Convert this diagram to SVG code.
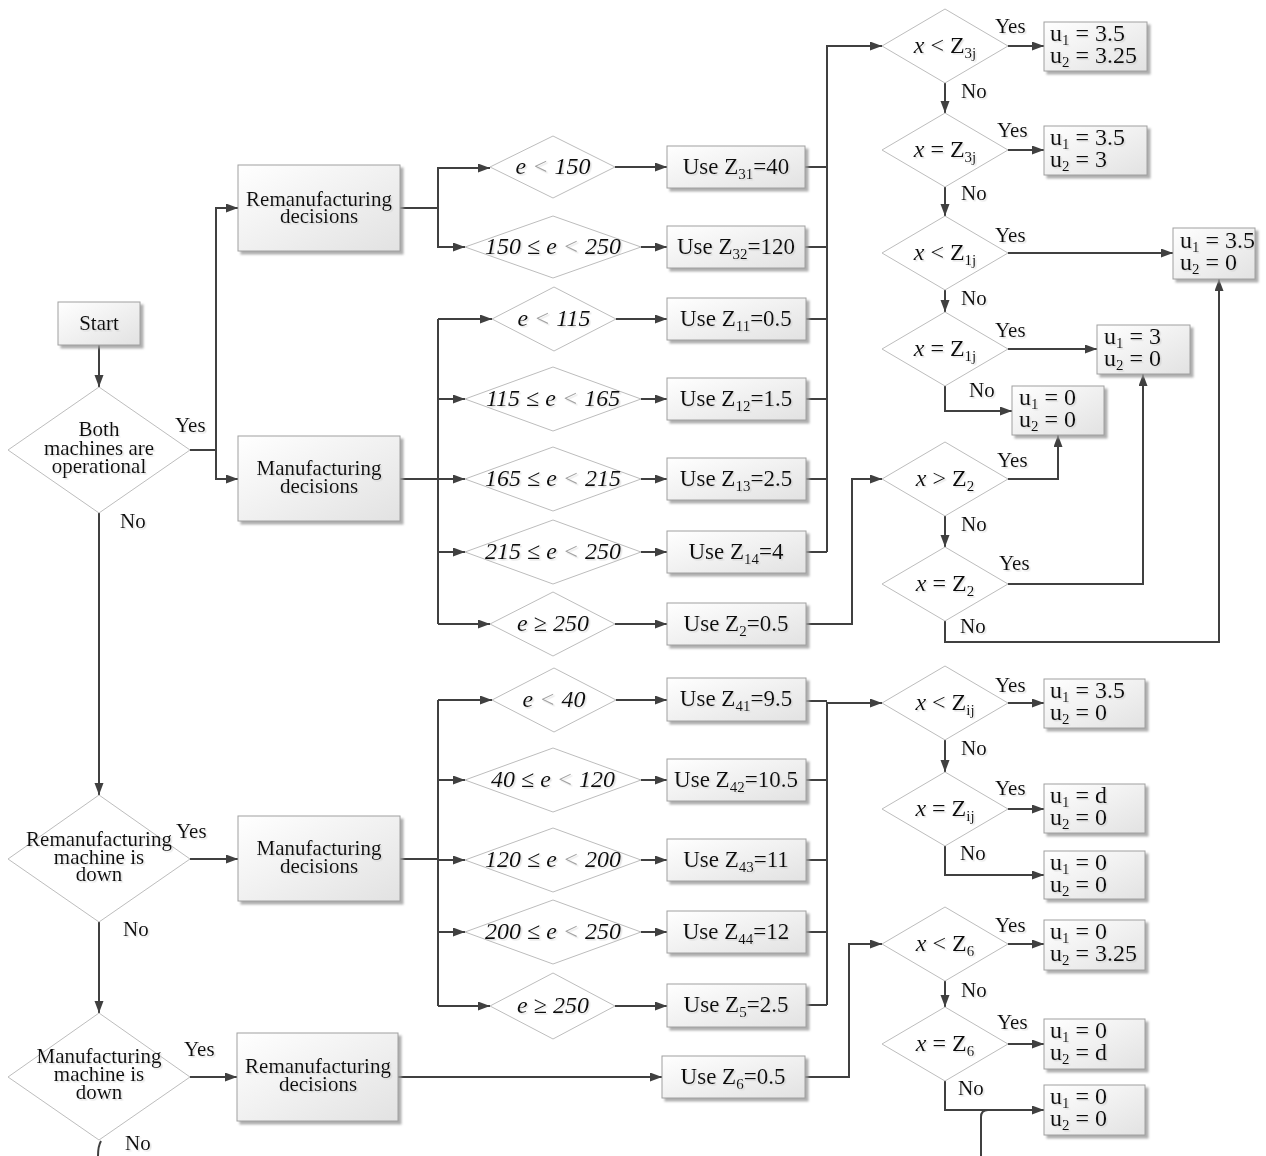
<svg xmlns="http://www.w3.org/2000/svg" width="1266" height="1156" viewBox="0 0 1266 1156">
<defs>
<linearGradient id="g" x1="0" y1="0" x2="1" y2="1"><stop offset="0" stop-color="#ffffff"/><stop offset="1" stop-color="#e2e2e2"/></linearGradient>
<filter id="sh" x="-10%" y="-10%" width="130%" height="140%"><feDropShadow dx="3" dy="3" stdDeviation="1.2" flood-color="#9a9a9a" flood-opacity="0.8"/></filter>
<filter id="ts" x="-5%" y="-20%" width="115%" height="150%"><feDropShadow dx="1.5" dy="1.5" stdDeviation="0.5" flood-color="#c0c0c0" flood-opacity="0.45"/></filter>
<marker id="a" markerUnits="userSpaceOnUse" markerWidth="13" markerHeight="10" refX="12" refY="4.5" orient="auto"><path d="M0,0 L12,4.5 L0,9 z" fill="#404040"/></marker>
<style>
.box{fill:url(#g);stroke:#a0a0a0;stroke-width:1;filter:url(#sh)}
.dia{fill:#fff;stroke:#bdbdbd;stroke-width:1}
.t{font-family:"Liberation Serif","Times New Roman",serif;font-size:21px;fill:#111;text-anchor:middle;filter:url(#ts)}
.ti{font-style:italic;font-size:24px}
.u{font-size:23px}
.xd{font-size:24px}
.uu{font-size:24px;text-anchor:start}
.l{text-anchor:start}
.lg{fill:#a0a0a0}
.con{fill:none;stroke:#404040;stroke-width:2}
.ar{marker-end:url(#a)}
</style>
</defs>

<g id="connectors">
<path class="con ar" d="M99 345V387"/>
<path class="con ar" d="M190 450H216V208H238"/>
<path class="con ar" d="M216 450V479H238"/>
<path class="con ar" d="M99 513V795"/>
<path class="con ar" d="M400 208H438V168H490"/>
<path class="con ar" d="M438 208V247H465"/>
<path class="con ar" d="M615 167H667"/>
<path class="con ar" d="M641 247H667"/>
<path class="con" d="M400 479H438M438 319V624"/>
<path class="con ar" d="M438 319H492"/>
<path class="con ar" d="M438 399H465"/>
<path class="con ar" d="M438 479H465"/>
<path class="con ar" d="M438 552H465"/>
<path class="con ar" d="M438 624H490"/>
<path class="con ar" d="M616 319H667"/>
<path class="con ar" d="M641 399H667"/>
<path class="con ar" d="M641 479H667"/>
<path class="con ar" d="M641 552H667"/>
<path class="con ar" d="M615 624H667"/>
<path class="con" d="M805 167H827M805 247H827M806 319H827M806 399H827M806 479H827M806 552H827"/>
<path class="con ar" d="M827 552V46H882"/>
<path class="con ar" d="M806 624H852V479H882"/>
<path class="con ar" d="M1008 46H1044"/>
<path class="con ar" d="M945 83V113"/>
<path class="con ar" d="M1008 150H1044"/>
<path class="con ar" d="M945 187V216"/>
<path class="con ar" d="M1008 253H1173"/>
<path class="con ar" d="M945 290V312"/>
<path class="con ar" d="M1008 349H1097"/>
<path class="con ar" d="M945 386V411H1012"/>
<path class="con ar" d="M1008 479H1058V435"/>
<path class="con ar" d="M945 516V547"/>
<path class="con ar" d="M1008 584H1143V374"/>
<path class="con ar" d="M945 621V642H1219V279"/>
<path class="con ar" d="M190 859H238"/>
<path class="con ar" d="M99 922V1013"/>
<path class="con" d="M400 859H438M438 700V1006"/>
<path class="con ar" d="M438 700H492"/>
<path class="con ar" d="M438 780H465"/>
<path class="con ar" d="M438 860H465"/>
<path class="con ar" d="M438 932H465"/>
<path class="con ar" d="M438 1006H490"/>
<path class="con ar" d="M616 700H667"/>
<path class="con ar" d="M641 780H667"/>
<path class="con ar" d="M641 860H667"/>
<path class="con ar" d="M641 932H667"/>
<path class="con ar" d="M615 1006H667"/>
<path class="con" d="M806 701H827M806 780H827M806 860H827M806 932H827M806 1005H827"/>
<path class="con ar" d="M827 1005V703H882"/>
<path class="con ar" d="M190 1077H237"/>
<path class="con ar" d="M398 1077H662"/>
<path class="con ar" d="M805 1077H849V944H882"/>
<path class="con ar" d="M1008 703H1044"/>
<path class="con ar" d="M945 740V772"/>
<path class="con ar" d="M1008 809H1044"/>
<path class="con ar" d="M945 846V875H1044"/>
<path class="con ar" d="M1008 944H1044"/>
<path class="con ar" d="M945 981V1007"/>
<path class="con ar" d="M1008 1044H1044"/>
<path class="con ar" d="M945 1081V1110H1044"/>
<path class="con" d="M981 1156V1117Q981 1110 988 1110"/>
<path class="con" d="M101 1141Q98 1146 98 1156"/>
</g>

<g id="labels">
<text class="t l" x="175" y="432">Yes</text>
<text class="t l" x="120" y="528">No</text>
<text class="t l" x="176" y="838">Yes</text>
<text class="t l" x="123" y="936">No</text>
<text class="t l" x="184" y="1056">Yes</text>
<text class="t l" x="125" y="1150">No</text>
<text class="t l" x="995" y="33">Yes</text>
<text class="t l" x="961" y="98">No</text>
<text class="t l" x="997" y="137">Yes</text>
<text class="t l" x="961" y="200">No</text>
<text class="t l" x="995" y="242">Yes</text>
<text class="t l" x="961" y="305">No</text>
<text class="t l" x="995" y="337">Yes</text>
<text class="t l" x="969" y="397">No</text>
<text class="t l" x="997" y="467">Yes</text>
<text class="t l" x="961" y="531">No</text>
<text class="t l" x="999" y="570">Yes</text>
<text class="t l" x="960" y="633">No</text>
<text class="t l" x="995" y="692">Yes</text>
<text class="t l" x="961" y="755">No</text>
<text class="t l" x="995" y="795">Yes</text>
<text class="t l" x="960" y="860">No</text>
<text class="t l" x="995" y="932">Yes</text>
<text class="t l" x="961" y="997">No</text>
<text class="t l" x="997" y="1029">Yes</text>
<text class="t l" x="958" y="1095">No</text>
</g>

<g id="start"><rect class="box" x="58" y="302" width="82" height="43"/><text class="t" x="99" y="330">Start</text></g>
<g id="d_both"><polygon class="dia" points="8,450 99,387 190,450 99,513"/><text class="t" x="99" y="436">Both</text><text class="t" x="99" y="455">machines are</text><text class="t" x="99" y="473">operational</text></g>
<g id="rem_dec1"><rect class="box" x="238" y="165" width="162" height="86"/><text class="t" x="319" y="206">Remanufacturing</text><text class="t" x="319" y="223">decisions</text></g>
<g id="man_dec1"><rect class="box" x="238" y="436" width="162" height="85"/><text class="t" x="319" y="475">Manufacturing</text><text class="t" x="319" y="493">decisions</text></g>

<g id="d_e150"><polygon class="dia" points="490,167 553,136 615,167 553,198"/><text class="t ti" x="553" y="174">e <tspan class="lg">&lt;</tspan> 150</text></g>
<g id="d_150_250"><polygon class="dia" points="465,247 553,216 641,247 553,278"/><text class="t ti" x="553" y="254">150 ≤ e <tspan class="lg">&lt;</tspan> 250</text></g>
<g id="d_e115"><polygon class="dia" points="492,319 554,287 616,319 554,351"/><text class="t ti" x="554" y="326">e <tspan class="lg">&lt;</tspan> 115</text></g>
<g id="d_115_165"><polygon class="dia" points="465,399 553,367 641,399 553,431"/><text class="t ti" x="553" y="406">115 ≤ e <tspan class="lg">&lt;</tspan> 165</text></g>
<g id="d_165_215"><polygon class="dia" points="465,479 553,447 641,479 553,511"/><text class="t ti" x="553" y="486">165 ≤ e <tspan class="lg">&lt;</tspan> 215</text></g>
<g id="d_215_250"><polygon class="dia" points="465,552 553,520 641,552 553,584"/><text class="t ti" x="553" y="559">215 ≤ e <tspan class="lg">&lt;</tspan> 250</text></g>
<g id="d_e250a"><polygon class="dia" points="490,624 553,592 615,624 553,656"/><text class="t ti" x="553" y="631">e ≥ 250</text></g>

<g id="z31"><rect class="box" x="667" y="146" width="138" height="42"/><text class="t u" x="736" y="174">Use Z<tspan font-size="15" dy="5">31</tspan><tspan dy="-5">=40</tspan></text></g>
<g id="z32"><rect class="box" x="667" y="226" width="138" height="42"/><text class="t u" x="736" y="254">Use Z<tspan font-size="15" dy="5">32</tspan><tspan dy="-5">=120</tspan></text></g>
<g id="z11"><rect class="box" x="667" y="298" width="139" height="42"/><text class="t u" x="736" y="326">Use Z<tspan font-size="15" dy="5">11</tspan><tspan dy="-5">=0.5</tspan></text></g>
<g id="z12"><rect class="box" x="667" y="378" width="139" height="42"/><text class="t u" x="736" y="406">Use Z<tspan font-size="15" dy="5">12</tspan><tspan dy="-5">=1.5</tspan></text></g>
<g id="z13"><rect class="box" x="667" y="458" width="139" height="42"/><text class="t u" x="736" y="486">Use Z<tspan font-size="15" dy="5">13</tspan><tspan dy="-5">=2.5</tspan></text></g>
<g id="z14"><rect class="box" x="667" y="531" width="139" height="42"/><text class="t u" x="736" y="559">Use Z<tspan font-size="15" dy="5">14</tspan><tspan dy="-5">=4</tspan></text></g>
<g id="z2"><rect class="box" x="667" y="603" width="139" height="42"/><text class="t u" x="736" y="631">Use Z<tspan font-size="15" dy="5">2</tspan><tspan dy="-5">=0.5</tspan></text></g>

<g id="x_lt_z3j"><polygon class="dia" points="882,46 945,9 1008,46 945,83"/><text class="t xd" x="945" y="53"><tspan font-style="italic">x</tspan> &lt; Z<tspan font-size="15" dy="5">3j</tspan></text></g>
<g id="x_eq_z3j"><polygon class="dia" points="882,150 945,113 1008,150 945,187"/><text class="t xd" x="945" y="157"><tspan font-style="italic">x</tspan> = Z<tspan font-size="15" dy="5">3j</tspan></text></g>
<g id="x_lt_z1j"><polygon class="dia" points="882,253 945,216 1008,253 945,290"/><text class="t xd" x="945" y="260"><tspan font-style="italic">x</tspan> &lt; Z<tspan font-size="15" dy="5">1j</tspan></text></g>
<g id="x_eq_z1j"><polygon class="dia" points="882,349 945,312 1008,349 945,386"/><text class="t xd" x="945" y="356"><tspan font-style="italic">x</tspan> = Z<tspan font-size="15" dy="5">1j</tspan></text></g>
<g id="x_gt_z2"><polygon class="dia" points="882,479 945,442 1008,479 945,516"/><text class="t xd" x="945" y="486"><tspan font-style="italic">x</tspan> &gt; Z<tspan font-size="15" dy="5">2</tspan></text></g>
<g id="x_eq_z2"><polygon class="dia" points="882,584 945,547 1008,584 945,621"/><text class="t xd" x="945" y="591"><tspan font-style="italic">x</tspan> = Z<tspan font-size="15" dy="5">2</tspan></text></g>

<g id="uA"><rect class="box" x="1044" y="22" width="103" height="49"/><text class="t uu" x="1050" y="41">u<tspan font-size="15" dy="4">1</tspan><tspan dy="-4"> = 3.5</tspan></text><text class="t uu" x="1050" y="63">u<tspan font-size="15" dy="4">2</tspan><tspan dy="-4"> = 3.25</tspan></text></g>
<g id="uB"><rect class="box" x="1044" y="126" width="103" height="49"/><text class="t uu" x="1050" y="145">u<tspan font-size="15" dy="4">1</tspan><tspan dy="-4"> = 3.5</tspan></text><text class="t uu" x="1050" y="167">u<tspan font-size="15" dy="4">2</tspan><tspan dy="-4"> = 3</tspan></text></g>
<g id="uC"><rect class="box" x="1173" y="228" width="82" height="51"/><text class="t uu" x="1180" y="248">u<tspan font-size="15" dy="4">1</tspan><tspan dy="-4"> = 3.5</tspan></text><text class="t uu" x="1180" y="270">u<tspan font-size="15" dy="4">2</tspan><tspan dy="-4"> = 0</tspan></text></g>
<g id="uD"><rect class="box" x="1097" y="325" width="93" height="49"/><text class="t uu" x="1104" y="344">u<tspan font-size="15" dy="4">1</tspan><tspan dy="-4"> = 3</tspan></text><text class="t uu" x="1104" y="366">u<tspan font-size="15" dy="4">2</tspan><tspan dy="-4"> = 0</tspan></text></g>
<g id="uE"><rect class="box" x="1012" y="386" width="92" height="49"/><text class="t uu" x="1019" y="405">u<tspan font-size="15" dy="4">1</tspan><tspan dy="-4"> = 0</tspan></text><text class="t uu" x="1019" y="427">u<tspan font-size="15" dy="4">2</tspan><tspan dy="-4"> = 0</tspan></text></g>

<g id="d_rem_down"><polygon class="dia" points="8,859 99,795 190,859 99,922"/><text class="t" x="99" y="846">Remanufacturing</text><text class="t" x="99" y="864">machine is</text><text class="t" x="99" y="881">down</text></g>
<g id="man_dec2"><rect class="box" x="238" y="816" width="162" height="85"/><text class="t" x="319" y="855">Manufacturing</text><text class="t" x="319" y="873">decisions</text></g>
<g id="d_man_down"><polygon class="dia" points="8,1077 99,1013 190,1077 99,1140"/><text class="t" x="99" y="1063">Manufacturing</text><text class="t" x="99" y="1081">machine is</text><text class="t" x="99" y="1099">down</text></g>
<g id="rem_dec2"><rect class="box" x="237" y="1033" width="161" height="88"/><text class="t" x="318" y="1073">Remanufacturing</text><text class="t" x="318" y="1091">decisions</text></g>

<g id="d_e40"><polygon class="dia" points="492,700 554,668 616,700 554,732"/><text class="t ti" x="554" y="707">e <tspan class="lg">&lt;</tspan> 40</text></g>
<g id="d_40_120"><polygon class="dia" points="465,780 553,748 641,780 553,812"/><text class="t ti" x="553" y="787">40 ≤ e <tspan class="lg">&lt;</tspan> 120</text></g>
<g id="d_120_200"><polygon class="dia" points="465,860 553,828 641,860 553,892"/><text class="t ti" x="553" y="867">120 ≤ e <tspan class="lg">&lt;</tspan> 200</text></g>
<g id="d_200_250"><polygon class="dia" points="465,932 553,900 641,932 553,964"/><text class="t ti" x="553" y="939">200 ≤ e <tspan class="lg">&lt;</tspan> 250</text></g>
<g id="d_e250b"><polygon class="dia" points="490,1006 553,973 615,1006 553,1039"/><text class="t ti" x="553" y="1013">e ≥ 250</text></g>

<g id="z41"><rect class="box" x="667" y="678" width="139" height="43"/><text class="t u" x="736" y="706">Use Z<tspan font-size="15" dy="5">41</tspan><tspan dy="-5">=9.5</tspan></text></g>
<g id="z42"><rect class="box" x="667" y="759" width="139" height="42"/><text class="t u" x="736" y="787">Use Z<tspan font-size="15" dy="5">42</tspan><tspan dy="-5">=10.5</tspan></text></g>
<g id="z43"><rect class="box" x="667" y="839" width="139" height="42"/><text class="t u" x="736" y="867">Use Z<tspan font-size="15" dy="5">43</tspan><tspan dy="-5">=11</tspan></text></g>
<g id="z44"><rect class="box" x="667" y="911" width="139" height="42"/><text class="t u" x="736" y="939">Use Z<tspan font-size="15" dy="5">44</tspan><tspan dy="-5">=12</tspan></text></g>
<g id="z5"><rect class="box" x="667" y="984" width="139" height="43"/><text class="t u" x="736" y="1012">Use Z<tspan font-size="15" dy="5">5</tspan><tspan dy="-5">=2.5</tspan></text></g>
<g id="z6"><rect class="box" x="662" y="1056" width="143" height="42"/><text class="t u" x="733" y="1084">Use Z<tspan font-size="15" dy="5">6</tspan><tspan dy="-5">=0.5</tspan></text></g>

<g id="x_lt_zij"><polygon class="dia" points="882,703 945,666 1008,703 945,740"/><text class="t xd" x="945" y="710"><tspan font-style="italic">x</tspan> &lt; Z<tspan font-size="15" dy="5">ij</tspan></text></g>
<g id="x_eq_zij"><polygon class="dia" points="882,809 945,772 1008,809 945,846"/><text class="t xd" x="945" y="816"><tspan font-style="italic">x</tspan> = Z<tspan font-size="15" dy="5">ij</tspan></text></g>
<g id="x_lt_z6"><polygon class="dia" points="882,944 945,907 1008,944 945,981"/><text class="t xd" x="945" y="951"><tspan font-style="italic">x</tspan> &lt; Z<tspan font-size="15" dy="5">6</tspan></text></g>
<g id="x_eq_z6"><polygon class="dia" points="882,1044 945,1007 1008,1044 945,1081"/><text class="t xd" x="945" y="1051"><tspan font-style="italic">x</tspan> = Z<tspan font-size="15" dy="5">6</tspan></text></g>

<g id="uF"><rect class="box" x="1044" y="679" width="101" height="49"/><text class="t uu" x="1050" y="698">u<tspan font-size="15" dy="4">1</tspan><tspan dy="-4"> = 3.5</tspan></text><text class="t uu" x="1050" y="720">u<tspan font-size="15" dy="4">2</tspan><tspan dy="-4"> = 0</tspan></text></g>
<g id="uG"><rect class="box" x="1044" y="784" width="101" height="49"/><text class="t uu" x="1050" y="803">u<tspan font-size="15" dy="4">1</tspan><tspan dy="-4"> = d</tspan></text><text class="t uu" x="1050" y="825">u<tspan font-size="15" dy="4">2</tspan><tspan dy="-4"> = 0</tspan></text></g>
<g id="uH"><rect class="box" x="1044" y="851" width="101" height="48"/><text class="t uu" x="1050" y="870">u<tspan font-size="15" dy="4">1</tspan><tspan dy="-4"> = 0</tspan></text><text class="t uu" x="1050" y="892">u<tspan font-size="15" dy="4">2</tspan><tspan dy="-4"> = 0</tspan></text></g>
<g id="uI"><rect class="box" x="1044" y="920" width="101" height="50"/><text class="t uu" x="1050" y="939">u<tspan font-size="15" dy="4">1</tspan><tspan dy="-4"> = 0</tspan></text><text class="t uu" x="1050" y="961">u<tspan font-size="15" dy="4">2</tspan><tspan dy="-4"> = 3.25</tspan></text></g>
<g id="uJ"><rect class="box" x="1044" y="1019" width="101" height="50"/><text class="t uu" x="1050" y="1038">u<tspan font-size="15" dy="4">1</tspan><tspan dy="-4"> = 0</tspan></text><text class="t uu" x="1050" y="1060">u<tspan font-size="15" dy="4">2</tspan><tspan dy="-4"> = d</tspan></text></g>
<g id="uK"><rect class="box" x="1044" y="1085" width="101" height="50"/><text class="t uu" x="1050" y="1104">u<tspan font-size="15" dy="4">1</tspan><tspan dy="-4"> = 0</tspan></text><text class="t uu" x="1050" y="1126">u<tspan font-size="15" dy="4">2</tspan><tspan dy="-4"> = 0</tspan></text></g>
</svg>
